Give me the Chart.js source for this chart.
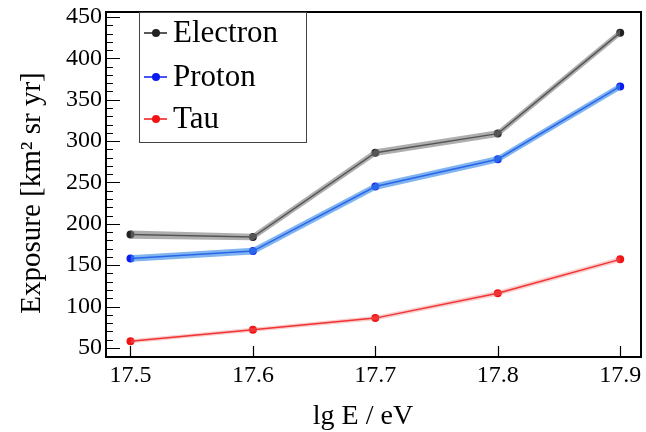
<!DOCTYPE html>
<html>
<head>
<meta charset="utf-8">
<script src="https://cdn.jsdelivr.net/npm/chart.js@4"></script>
<style>
  html, body { margin: 0; padding: 0; background: #fff; }
  #wrap { width: 646px; height: 432px; }
</style>
</head>
<body>
<div id="wrap"><canvas id="chart" width="646" height="432"></canvas></div>
<script>
// data
const energies = [17.5, 17.6, 17.7, 17.8, 17.9];
const electron = [187, 184, 286, 309, 431];
const electronErr = [5, 4, 4, 4, 4];
const proton = [158, 167, 245, 278, 366];
const protonErr = [4, 4, 4, 4, 4];
const tau = [58, 72, 86, 116, 157];
const tauErr = [2.5, 2.5, 2.5, 3, 3];

const xTicks = [17.5, 17.6, 17.7, 17.8, 17.9];
const yTicks = [50, 100, 150, 200, 250, 300, 350, 400, 450];
const yMinorStep = 10;

const xTitle = 'lg E / eV';
const yTitle = 'Exposure [km\u00B2 sr yr]';

const FONT = '"Liberation Serif", "Times New Roman", serif';

function pts(vals, err, sign) {
  return energies.map((x, i) => ({ x: x, y: vals[i] + sign * err[i] }));
}

function series(label, vals, err, line, band) {
  return [
    { label: label + ' hi', data: pts(vals, err, 1), borderWidth: 0, pointRadius: 0,
      backgroundColor: band, fill: '+1' },
    { label: label + ' lo', data: pts(vals, err, -1), borderWidth: 0, pointRadius: 0,
      backgroundColor: band, fill: false },
    { label: label, data: pts(vals, err, 0), borderColor: line, backgroundColor: line,
      borderWidth: 1.5, pointRadius: 4, pointBackgroundColor: line, pointBorderWidth: 0, fill: false }
  ];
}

const datasets = [].concat(
  series('Electron', electron, electronErr, '#222222', 'rgba(120,120,120,0.6)'),
  series('Proton', proton, protonErr, '#0a1cf0', 'rgba(60,140,230,0.65)'),
  series('Tau', tau, tauErr, '#f01414', 'rgba(240,110,110,0.35)')
);

// frame, inside ticks, axis titles and legend box in ROOT style
const framePlugin = {
  id: 'frame',
  afterDraw(chart) {
    const ctx = chart.ctx, a = chart.chartArea;
    const xs = chart.scales.x, ys = chart.scales.y;
    ctx.save();
    ctx.strokeStyle = '#000';
    ctx.lineWidth = 1.2;
    ctx.beginPath();
    for (let v = 40; v <= 450; v += yMinorStep) {
      const y = Math.round(ys.getPixelForValue(v)) + 0.5;
      const len = (v % 50 === 0) ? 14 : 7;
      ctx.moveTo(a.left, y); ctx.lineTo(a.left + len, y);
    }
    xTicks.forEach(v => {
      const x = Math.round(xs.getPixelForValue(v)) + 0.5;
      ctx.moveTo(x, a.bottom); ctx.lineTo(x, a.bottom - 11);
    });
    ctx.stroke();
    ctx.lineWidth = 2;
    ctx.strokeRect(a.left, a.top, a.right - a.left, a.bottom - a.top);

    // axis titles
    ctx.fillStyle = '#000';
    ctx.textAlign = 'center';
    ctx.textBaseline = 'middle';
    ctx.font = '28px ' + FONT;
    ctx.fillText(xTitle, 363, 417);
    ctx.save();
    ctx.translate(32, 193);
    ctx.rotate(-Math.PI / 2);
    ctx.font = '29px ' + FONT;
    ctx.fillText(yTitle, 0, 0);
    ctx.restore();

    // legend
    const lx = 139, ly = 12, lw = 167, lh = 130;
    ctx.fillStyle = '#fff';
    ctx.fillRect(lx, ly, lw, lh);
    ctx.lineWidth = 1;
    ctx.strokeStyle = '#444';
    ctx.strokeRect(lx + 0.5, ly + 0.5, lw, lh);
    const items = [
      { text: 'Electron', color: '#222222', y: 33 },
      { text: 'Proton', color: '#0a1cf0', y: 77 },
      { text: 'Tau', color: '#f01414', y: 119 }
    ];
    ctx.font = '31px ' + FONT;
    ctx.textAlign = 'left';
    items.forEach(it => {
      ctx.strokeStyle = it.color;
      ctx.lineWidth = 1.5;
      ctx.beginPath();
      ctx.moveTo(144, it.y); ctx.lineTo(167, it.y);
      ctx.stroke();
      ctx.fillStyle = it.color;
      ctx.beginPath();
      ctx.arc(156, it.y, 4, 0, Math.PI * 2);
      ctx.fill();
      ctx.fillStyle = '#000';
      ctx.fillText(it.text, 173, it.y + 1);
    });
    ctx.restore();
  }
};

new Chart(document.getElementById('chart'), {
  type: 'line',
  data: { datasets: datasets },
  options: {
    responsive: false,
    animation: false,
    layout: { padding: { top: 12, right: 5, left: 0, bottom: 0 } },
    plugins: { legend: { display: false }, tooltip: { enabled: false } },
    elements: { line: { tension: 0 } },
    scales: {
      x: {
        type: 'linear',
        min: 17.48, max: 17.917,
        afterBuildTicks: s => { s.ticks = xTicks.map(v => ({ value: v })); },
        afterFit: s => { s.height = 75; },
        grid: { display: false, drawTicks: false },
        border: { display: false },
        ticks: { color: '#000', font: { family: FONT, size: 24 }, padding: 4,
                 maxRotation: 0, callback: v => v.toFixed(1) }
      },
      y: {
        min: 39, max: 456,
        afterBuildTicks: s => { s.ticks = yTicks.map(v => ({ value: v })); },
        afterFit: s => { s.width = 106; },
        grid: { display: false, drawTicks: false },
        border: { display: false },
        ticks: { color: '#000', font: { family: FONT, size: 24, lineHeight: 0.5 }, padding: 4 }
      }
    }
  },
  plugins: [framePlugin]
});
</script>
</body>
</html>
